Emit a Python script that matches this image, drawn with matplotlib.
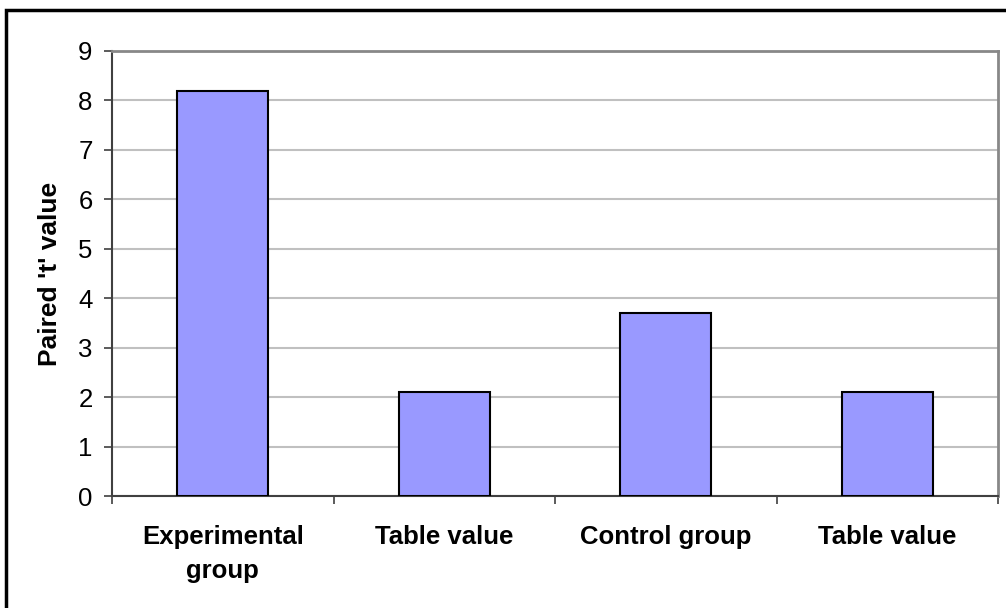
import matplotlib
matplotlib.use("Agg")
import matplotlib.pyplot as plt
from matplotlib.patches import Rectangle
from matplotlib.ticker import FixedLocator
import numpy as np

plt.rcParams['font.family'] = ['Liberation Sans', 'DejaVu Sans']

# paired t values and the matching table values
groups = ["Experimental\ngroup", "Table value", "Control group", "Table value"]
t_values = [8.2, 2.1, 3.7, 2.1]
y_ticks = list(range(0, 10))

fig = plt.figure(figsize=(10.06, 6.08), dpi=100)
ax = fig.add_axes([112 / 1006, 112 / 608, 886 / 1006, 445 / 608])

x = np.arange(len(groups))
ax.bar(x, t_values, width=0.41, color="#9999FF", edgecolor="black",
       linewidth=1.5, zorder=3)

ax.set_xlim(-0.5, len(groups) - 0.5)
ax.set_ylim(0, 9)
ax.set_yticks(y_ticks)
ax.yaxis.grid(True, color="#C0C0C0", linewidth=1.5, zorder=0)

ax.set_xticks(x)
ax.set_xticklabels(groups, fontsize=18.5, fontweight="bold", linespacing=1.5)
ax.xaxis.set_minor_locator(FixedLocator(np.arange(len(groups) + 1) - 0.5))
ax.tick_params(axis="x", which="major", length=0, pad=21)
ax.tick_params(axis="x", which="minor", length=6, width=1.2, color="#404040")
ax.tick_params(axis="y", length=6, width=1.2, color="#404040",
               labelsize=18.5, pad=8)

ax.set_ylabel("Paired 't' value", fontsize=19, fontweight="bold", labelpad=12)

for side in ("left", "bottom"):
    ax.spines[side].set_color("#404040")
    ax.spines[side].set_linewidth(1.5)
for side in ("top", "right"):
    ax.spines[side].set_color("#888888")
    ax.spines[side].set_linewidth(2)

# frame round the whole chart
fig.patches.append(Rectangle((6 / 1006, -0.05), 1.05, 1 - 10 / 608 + 0.05,
                             transform=fig.transFigure, fill=False,
                             edgecolor="black", linewidth=2.5))

fig.savefig("out.png", dpi=100)
